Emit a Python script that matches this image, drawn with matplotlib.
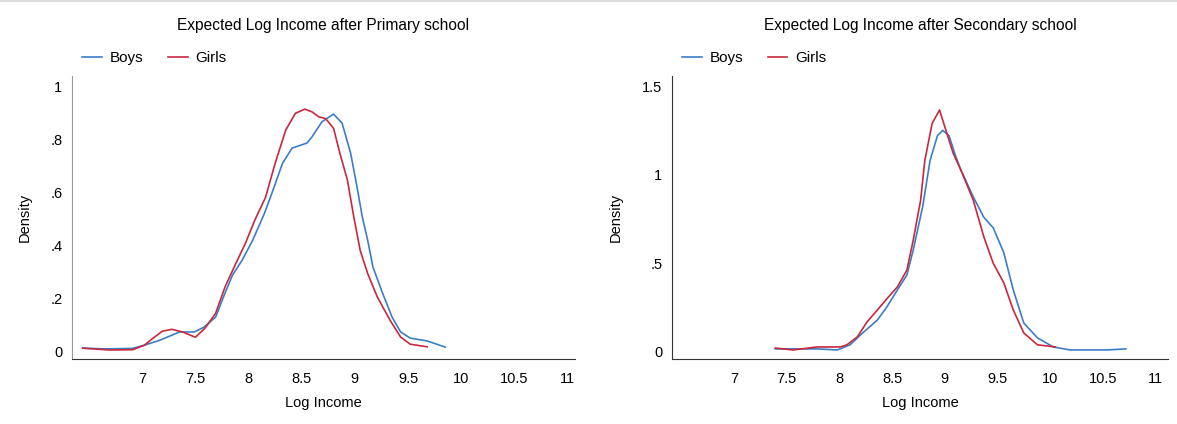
import matplotlib.pyplot as plt
from matplotlib.lines import Line2D

plt.rcParams['font.family'] = ['Liberation Sans', 'DejaVu Sans']

# primary school densities
prim_boys_x = [6.44, 6.65, 6.91, 7.02, 7.16, 7.28, 7.35, 7.49, 7.58, 7.69, 7.78, 7.85, 7.94,
               8.04, 8.15, 8.22, 8.32, 8.41, 8.55, 8.60, 8.69, 8.79, 8.80, 8.88, 8.96, 9.02,
               9.07, 9.12, 9.17, 9.26, 9.35, 9.43, 9.52, 9.68, 9.85]
prim_boys_y = [0.011, 0.008, 0.010, 0.022, 0.040, 0.060, 0.072, 0.072, 0.090, 0.128, 0.220,
               0.287, 0.343, 0.419, 0.520, 0.596, 0.709, 0.766, 0.785, 0.810, 0.865, 0.892,
               0.894, 0.860, 0.747, 0.620, 0.506, 0.419, 0.317, 0.219, 0.128, 0.072, 0.049,
               0.038, 0.015]
prim_girls_x = [6.44, 6.69, 6.91, 7.02, 7.10, 7.19, 7.28, 7.38, 7.50, 7.59, 7.69, 7.78, 7.88,
                7.97, 8.06, 8.16, 8.25, 8.35, 8.44, 8.53, 8.60, 8.66, 8.72, 8.74, 8.80, 8.86,
                8.93, 8.99, 9.05, 9.12, 9.21, 9.33, 9.43, 9.52, 9.68]
prim_girls_y = [0.011, 0.004, 0.005, 0.022, 0.048, 0.075, 0.082, 0.072, 0.052, 0.086, 0.142,
                0.243, 0.330, 0.406, 0.495, 0.580, 0.708, 0.834, 0.897, 0.913, 0.902, 0.884,
                0.878, 0.870, 0.840, 0.745, 0.645, 0.506, 0.380, 0.293, 0.205, 0.117, 0.053,
                0.026, 0.016]

# secondary school densities
sec_boys_x = [7.39, 7.79, 7.98, 8.10, 8.22, 8.36, 8.45, 8.55, 8.64, 8.70, 8.79, 8.86, 8.93,
              8.98, 9.04, 9.10, 9.15, 9.27, 9.37, 9.46, 9.56, 9.65, 9.75, 9.88, 10.03, 10.19,
              10.54, 10.72]
sec_boys_y = [0.017, 0.017, 0.011, 0.040, 0.107, 0.180, 0.254, 0.350, 0.434, 0.575, 0.820,
              1.080, 1.220, 1.250, 1.220, 1.110, 1.030, 0.875, 0.760, 0.700, 0.560, 0.350,
              0.163, 0.079, 0.028, 0.011, 0.011, 0.017]
sec_girls_x = [7.39, 7.56, 7.79, 8.01, 8.07, 8.17, 8.26, 8.36, 8.45, 8.55, 8.64, 8.70, 8.77,
               8.81, 8.88, 8.95, 9.00, 9.08, 9.15, 9.27, 9.37, 9.46, 9.56, 9.65, 9.75, 9.88,
               10.05]
sec_girls_y = [0.022, 0.011, 0.028, 0.028, 0.040, 0.085, 0.168, 0.237, 0.300, 0.367, 0.462,
               0.630, 0.855, 1.080, 1.290, 1.365, 1.270, 1.120, 1.030, 0.857, 0.650, 0.500,
               0.390, 0.237, 0.107, 0.040, 0.028]

x_ticks = [7, 7.5, 8, 8.5, 9, 9.5, 10, 10.5, 11]
x_labels = ['7', '7.5', '8', '8.5', '9', '9.5', '10', '10.5', '11']
prim_yticks = [0, 0.2, 0.4, 0.6, 0.8, 1]
prim_ylabels = ['0', '.2', '.4', '.6', '.8', '1']
sec_yticks = [0, 0.5, 1, 1.5]
sec_ylabels = ['0', '.5', '1', '1.5']

blue = '#3a7ec8'
red = '#c8283e'
fs = 10.5

fig = plt.figure(figsize=(11.77, 4.24), dpi=100)
ax1 = fig.add_axes([0.0612, 0.1533, 0.4273, 0.6675])
ax2 = fig.add_axes([0.5710, 0.1533, 0.4214, 0.6675])

panels = [
    (ax1, prim_boys_x, prim_boys_y, prim_girls_x, prim_girls_y, prim_yticks, prim_ylabels,
     (6.34, 11.07), (-0.03, 1.038), 'Expected Log Income after Primary school', -0.0795),
    (ax2, sec_boys_x, sec_boys_y, sec_girls_x, sec_girls_y, sec_yticks, sec_ylabels,
     (6.41, 11.12), (-0.04, 1.557), 'Expected Log Income after Secondary school', -0.10),
]

for ax, bx, by, gx, gy, yt, yl, xlim, ylim, title, ylab_x in panels:
    ax.plot(bx, by, color=blue, lw=1.2, label='Boys')
    ax.plot(gx, gy, color=red, lw=1.2, label='Girls')
    ax.set_xlim(*xlim)
    ax.set_ylim(*ylim)
    ax.set_xticks(x_ticks)
    ax.set_xticklabels(x_labels)
    ax.set_yticks(yt)
    ax.set_yticklabels(yl)
    ax.tick_params(axis='x', length=0, pad=9, labelsize=fs)
    ax.tick_params(axis='y', length=0, pad=7, labelsize=fs)
    for s in ['top', 'right']:
        ax.spines[s].set_visible(False)
    ax.spines['bottom'].set_color('#333333')
    ax.spines['left'].set_color('#333333')
    ax.set_xlabel('Log Income', fontsize=fs)
    ax.set_ylabel('Density', fontsize=fs)
    ax.xaxis.set_label_coords(0.5, -0.131)
    ax.yaxis.set_label_coords(ylab_x, 0.5)
    ax.text(0.5, 1.18, title, transform=ax.transAxes, ha='center', va='center', fontsize=11.2)
    ax.legend(loc='center left', bbox_to_anchor=(0.02, 1.064), ncol=2, frameon=False,
              fontsize=11, handlelength=1.3, handletextpad=0.5, columnspacing=1.6,
              borderpad=0, borderaxespad=0)

ax1.spines['left'].set_color('#999999')

fig.add_artist(Line2D([0, 1], [0.998, 0.998], color='#dddddd', lw=1.5, transform=fig.transFigure))

fig.savefig('out.png', dpi=100, facecolor='white')
